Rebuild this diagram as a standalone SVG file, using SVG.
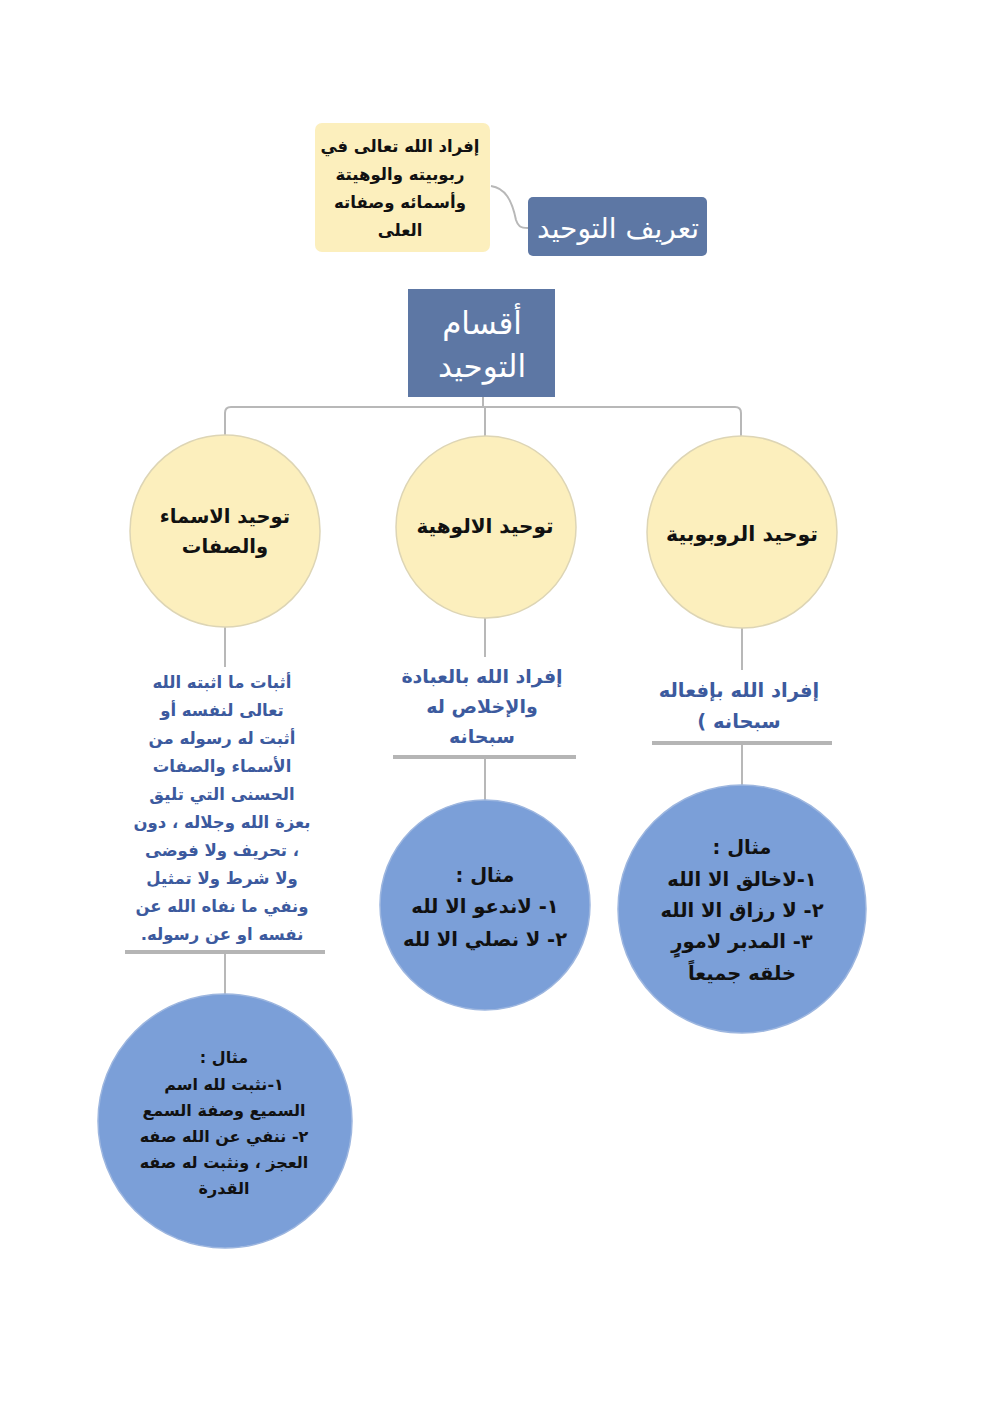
<svg xmlns="http://www.w3.org/2000/svg" width="992" height="1403" viewBox="0 0 992 1403">
<style>
text{font-family:"DejaVu Sans","Noto Sans",sans-serif;text-anchor:middle;direction:rtl;font-weight:bold}
.yel{fill:#fcefbd;stroke:#ddd5b5;stroke-width:1.5}
.blu{fill:#7b9fd8;stroke:#9db6df;stroke-width:1.5}
.hdr{fill:#5d77a4}
.conn{fill:none;stroke:#b8b8b8;stroke-width:2}
.bl{fill:#fff;font-weight:normal}
.bk{fill:#111}
.dt{fill:#3c5a9e}
</style>
<rect width="992" height="1403" fill="#fff"/>
<g id="connectors">
<path class="conn" d="M491,186 C505,188 512,200 516,220 C518,226 520,228 528,228"/>
<path class="conn" d="M483,397 V407"/>
<path class="conn" d="M225,436 V413 Q225,407 231,407 H735 Q741,407 741,413 V437"/>
<path class="conn" d="M485,407 V436"/>
<path class="conn" d="M225,627 V667"/>
<path class="conn" d="M485,617 V657"/>
<path class="conn" d="M742,628 V670"/>
<path d="M125,952 H325 M393,757 H576 M652,743 H832" stroke="#b5b5b5" stroke-width="4" fill="none"/>
<path class="conn" d="M225,954 V995"/>
<path class="conn" d="M485,759 V800"/>
<path class="conn" d="M742,745 V785"/>
</g>
<g id="def">
<rect class="yel" x="315" y="123" width="175" height="129" rx="7" style="stroke:none"/>
<text class="bk" font-size="16.5" x="400" y="152">إفراد الله تعالى في</text>
<text class="bk" font-size="16.5" x="400" y="180">ربوبيته والوهيتة</text>
<text class="bk" font-size="16.5" x="400" y="208">وأسمائه وصفاته</text>
<text class="bk" font-size="16.5" x="400" y="236">العلى</text>
</g>
<g id="tarif">
<rect class="hdr" x="528" y="197" width="179" height="59" rx="5"/>
<text class="bl" font-size="28" x="618" y="238">تعريف التوحيد</text>
</g>
<g id="aqsam">
<rect class="hdr" x="408" y="289" width="147" height="108"/>
<text class="bl" font-size="31" x="482" y="334">أقسام</text>
<text class="bl" font-size="31" x="482" y="377">التوحيد</text>
</g>
<g id="asma">
<ellipse class="yel" cx="225" cy="531" rx="95" ry="96"/>
<text class="bk" font-size="19.5" x="225" y="523">توحيد الاسماء</text>
<text class="bk" font-size="19.5" x="225" y="553">والصفات</text>
</g>
<g id="uluhiya">
<ellipse class="yel" cx="486" cy="527" rx="90" ry="91"/>
<text class="bk" font-size="20" x="485" y="533">توحيد الالوهية</text>
</g>
<g id="rububiya">
<ellipse class="yel" cx="742" cy="532" rx="95" ry="96"/>
<text class="bk" font-size="20.5" x="742" y="541">توحيد الروبوبية</text>
</g>
<g id="asma-def">
<text class="dt" font-size="16.5" x="222" y="688">أثبات ما اثبته الله</text>
<text class="dt" font-size="16.5" x="222" y="716">تعالى لنفسه أو</text>
<text class="dt" font-size="16.5" x="222" y="744">أثبت له رسوله من</text>
<text class="dt" font-size="16.5" x="222" y="772">الأسماء والصفات</text>
<text class="dt" font-size="16.5" x="222" y="800">الحسنى التي تليق</text>
<text class="dt" font-size="16.5" x="222" y="828">بعزة الله وجلاله ، دون</text>
<text class="dt" font-size="16.5" x="222" y="856">، تحريف ولا فوضى</text>
<text class="dt" font-size="16.5" x="222" y="884">ولا شرط ولا تمثيل</text>
<text class="dt" font-size="16.5" x="222" y="912">ونفي ما نفاه الله عن</text>
<text class="dt" font-size="16.5" x="222" y="940">نفسه او عن رسوله.</text>
</g>
<g id="uluhiya-def">
<text class="dt" font-size="19" x="482" y="683">إفراد الله بالعبادة</text>
<text class="dt" font-size="19" x="482" y="713">والإخلاص له</text>
<text class="dt" font-size="19" x="482" y="743">سبحانه</text>
</g>
<g id="rububiya-def">
<text class="dt" font-size="19.5" x="739" y="697">إفراد الله بإفعاله</text>
<text class="dt" font-size="19.5" x="739" y="728">سبحانه )</text>
</g>
<g id="asma-ex">
<circle class="blu" cx="225" cy="1121" r="127"/>
<text class="bk" font-size="16" x="224" y="1063">مثال :</text>
<text class="bk" font-size="16" x="224" y="1090">١-نثبت لله اسم</text>
<text class="bk" font-size="16" x="224" y="1116">السميع وصفة السمع</text>
<text class="bk" font-size="16" x="224" y="1142">٢- ننفي عن الله صفه</text>
<text class="bk" font-size="16" x="224" y="1168">العجز ، ونثبت له صفه</text>
<text class="bk" font-size="16" x="224" y="1194">القدرة</text>
</g>
<g id="uluhiya-ex">
<circle class="blu" cx="485" cy="905" r="105"/>
<text class="bk" font-size="19.5" x="485" y="882">مثال :</text>
<text class="bk" font-size="19.5" x="485" y="913">١- لاندعو الا لله</text>
<text class="bk" font-size="19.5" x="485" y="946">٢- لا نصلي الا لله</text>
</g>
<g id="rububiya-ex">
<circle class="blu" cx="742" cy="909" r="124"/>
<text class="bk" font-size="19.5" x="742" y="854">مثال :</text>
<text class="bk" font-size="19.5" x="742" y="886">١-لاخالق الا الله</text>
<text class="bk" font-size="19.5" x="742" y="917">٢- لا رزاق الا الله</text>
<text class="bk" font-size="19.5" x="742" y="948">٣- المدبر لامورٍ</text>
<text class="bk" font-size="19.5" x="742" y="980">خلقه جميعاً</text>
</g>
</svg>
